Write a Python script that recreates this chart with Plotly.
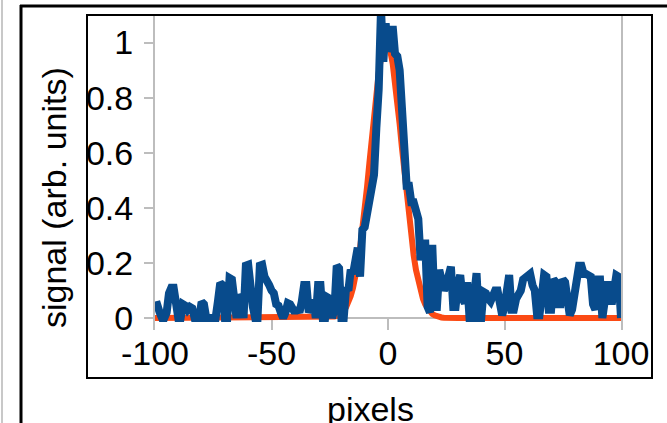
import plotly.graph_objects as go

# Detector position (pixels), one sample per pixel
pixels = list(range(-100, 101))

# Measured signal, x = -100 ... 100
signal = [
    0.045, 0.047, 0.02, 0.0, 0.0, 0.02, 0.09, 0.11, 0.11, 0.03,      # -100..-91
    0.0, 0.0, 0.05, 0.045, 0.03, 0.04, 0.035, 0.0, 0.0, 0.0,         # -90..-81
    0.058, 0.05, 0.0, 0.0, 0.0, 0.0, 0.0, 0.06, 0.127, 0.12,         # -80..-71
    0.0, 0.0, 0.145, 0.14, 0.02, 0.0, 0.084, 0.07, 0.0, 0.19,        # -70..-61
    0.193, 0.07, 0.04, 0.0, 0.0, 0.19, 0.193, 0.15, 0.14, 0.12,      # -60..-51
    0.10, 0.09, 0.05, 0.045, 0.02, 0.0, 0.02, 0.054, 0.05, 0.03,     # -50..-41
    0.02, 0.035, 0.02, 0.06, 0.12, 0.12, 0.02, 0.04, 0.065, 0.0,     # -40..-31
    0.12, 0.12, 0.0, 0.0, 0.075, 0.07, 0.0, 0.03, 0.19, 0.18,        # -30..-21
    0.0, 0.0, 0.11, 0.10, 0.175, 0.16, 0.20, 0.255, 0.15, 0.32,      # -20..-11
    0.33, 0.39, 0.41, 0.50, 0.52, 0.69, 0.83, 1.12, 0.93, 1.07,      # -10..-1
    0.97,                                                            # 0
    0.985, 1.06, 0.96, 0.95, 0.90, 0.79, 0.62, 0.48, 0.48, 0.42,     # 1..10
    0.42, 0.37, 0.36, 0.21, 0.27, 0.27, 0.04, 0.02, 0.265, 0.04,     # 11..20
    0.04, 0.175, 0.11, 0.10, 0.12, 0.175, 0.186, 0.04, 0.04, 0.12,   # 21..30
    0.156, 0.07, 0.054, 0.13, 0.0, 0.0, 0.12, 0.163, 0.0, 0.0,       # 31..40
    0.095, 0.09, 0.07, 0.06, 0.08, 0.10, 0.10, 0.03, 0.01, 0.04,     # 41..50
    0.10, 0.156, 0.03, 0.03, 0.07, 0.09, 0.10, 0.14, 0.15, 0.16,     # 51..60
    0.16, 0.12, 0.10, 0.01, 0.01, 0.08, 0.156, 0.15, 0.03, 0.03,     # 61..70
    0.14, 0.13, 0.05, 0.05, 0.14, 0.13, 0.05, 0.01, 0.03, 0.10,      # 71..80
    0.15, 0.19, 0.19, 0.16, 0.16, 0.15, 0.15, 0.05, 0.03, 0.14,      # 81..90
    0.14, 0.0, 0.05, 0.12, 0.12, 0.05, 0.10, 0.155, 0.15, 0.0,       # 91..100
]

# Gaussian fit to the signal, x = -100 ... 100
fit = [
    0.0, 0.0, 0.0, 0.0, 0.0, 0.0, 0.0, 0.0, 0.0, 0.0,                # -100..-91
    0.0, 0.0, 0.0, 0.0, 0.0, 0.0, 0.0, 0.0, 0.0, 0.0,                # -90..-81
    0.0, 0.0, 0.0, 0.0, 0.0, 0.0, 0.0, 0.0, 0.0, 0.0,                # -80..-71
    0.0, 0.0, 0.0, 0.0, 0.0, 0.0, 0.0, 0.0, 0.0, 0.0,                # -70..-61
    0.0, 0.0, 0.0, 0.0, 0.0, 0.0, 0.0, 0.0, 0.0, 0.0,                # -60..-51
    0.0, 0.0, 0.0, 0.0, 0.0, 0.0, 0.0, 0.0, 0.0, 0.0,                # -50..-41
    0.0, 0.0, 0.0, 0.0, 0.0, 0.0, 0.0, 0.0, 0.0, 0.0,                # -40..-31
    0.0, 0.0, 0.0, 0.0, 0.0, 0.002, 0.003, 0.005, 0.007, 0.012,      # -30..-21
    0.018, 0.027, 0.039, 0.057, 0.080, 0.110, 0.148, 0.195, 0.252, 0.318,  # -20..-11
    0.393, 0.475, 0.562, 0.651, 0.738, 0.819, 0.889, 0.944, 0.982, 0.999,  # -10..-1
    0.995,                                                           # 0
    0.969, 0.924, 0.862, 0.788, 0.704, 0.616, 0.527, 0.441, 0.362, 0.290,  # 1..10
    0.228, 0.175, 0.131, 0.097, 0.070, 0.049, 0.034, 0.023, 0.015, 0.010,  # 11..20
    0.006, 0.004, 0.002, 0.001, 0.0, 0.0, 0.0, 0.0, 0.0, 0.0,        # 21..30
    0.0, 0.0, 0.0, 0.0, 0.0, 0.0, 0.0, 0.0, 0.0, 0.0,                # 31..40
    0.0, 0.0, 0.0, 0.0, 0.0, 0.0, 0.0, 0.0, 0.0, 0.0,                # 41..50
    0.0, 0.0, 0.0, 0.0, 0.0, 0.0, 0.0, 0.0, 0.0, 0.0,                # 51..60
    0.0, 0.0, 0.0, 0.0, 0.0, 0.0, 0.0, 0.0, 0.0, 0.0,                # 61..70
    0.0, 0.0, 0.0, 0.0, 0.0, 0.0, 0.0, 0.0, 0.0, 0.0,                # 71..80
    0.0, 0.0, 0.0, 0.0, 0.0, 0.0, 0.0, 0.0, 0.0, 0.0,                # 81..90
    0.0, 0.0, 0.0, 0.0, 0.0, 0.0, 0.0, 0.0, 0.0, 0.0,                # 91..100
]

x_ticks = [-100, -50, 0, 50, 100]
x_tick_text = ["-100", "-50", "0", "50", "100"]
y_ticks = [0, 0.2, 0.4, 0.6, 0.8, 1]
y_tick_text = ["0", "0.2", "0.4", "0.6", "0.8", "1"]

FONT = "Liberation Sans, Arial, sans-serif"
GRAY = "#bdbdbd"
W, H = 667, 423
L, R, T, B = 155, 46, 15, 93
PW, PH = W - L - R, H - T - B


def px(x):
    """Pixel column -> paper x."""
    return (x - L) / PW


def py(y):
    """Pixel row -> paper y."""
    return (H - B - y) / PH


fig = go.Figure()
fig.add_trace(go.Scatter(x=pixels, y=fit, mode="lines",
                         line=dict(color="#fb4a14", width=6), hoverinfo="skip"))
fig.add_trace(go.Scatter(x=pixels, y=signal, mode="lines",
                         line=dict(color="#084b8c", width=8)))

fig.update_layout(
    width=W, height=H, autosize=False,
    margin=dict(l=L, r=R, t=T, b=B, pad=0),
    paper_bgcolor="white", plot_bgcolor="white",
    showlegend=False,
    font=dict(family=FONT, size=34, color="black"),
    xaxis=dict(range=[-100, 100], tickvals=x_ticks, ticktext=x_tick_text,
               ticks="inside", ticklen=12, tickwidth=2, tickcolor=GRAY,
               showline=False, showgrid=False, zeroline=False,
               tickfont=dict(size=34), layer="below traces"),
    yaxis=dict(range=[-0.0436, 1.1], tickvals=y_ticks, ticktext=y_tick_text,
               ticks="outside", ticklen=9, tickwidth=2, tickcolor=GRAY,
               showline=True, linecolor=GRAY, linewidth=2, mirror=True,
               showgrid=False, zeroline=True, zerolinecolor=GRAY, zerolinewidth=2,
               tickfont=dict(size=34), ticklabelstandoff=4, layer="below traces"),
)

# axis titles, centred on the framed panel
fig.add_annotation(text="signal (arb. units)", textangle=-90,
                   xref="paper", yref="paper", x=px(54), y=py(198),
                   xanchor="center", yanchor="middle", showarrow=False,
                   font=dict(size=34))
fig.add_annotation(text="pixels", xref="paper", yref="paper",
                   x=px(370), y=py(388), xanchor="center", yanchor="top",
                   showarrow=False, font=dict(size=34))

# panel frames
frame = [
    dict(x0=px(2), x1=px(2), y0=py(0), y1=py(H), color="#c8c8c8", width=2),
    dict(x0=px(21), x1=px(21), y0=py(5), y1=py(H), color="black", width=3),
    dict(x0=px(20), x1=px(W), y0=py(6), y1=py(6), color="black", width=3),
]
for f in frame:
    fig.add_shape(type="line", xref="paper", yref="paper",
                  x0=f["x0"], x1=f["x1"], y0=f["y0"], y1=f["y1"],
                  line=dict(color=f["color"], width=f["width"]), layer="above")
fig.add_shape(type="rect", xref="paper", yref="paper",
              x0=px(87), x1=px(652), y0=py(378), y1=py(15),
              line=dict(color="black", width=2), layer="above")

fig.write_html("out.html")
